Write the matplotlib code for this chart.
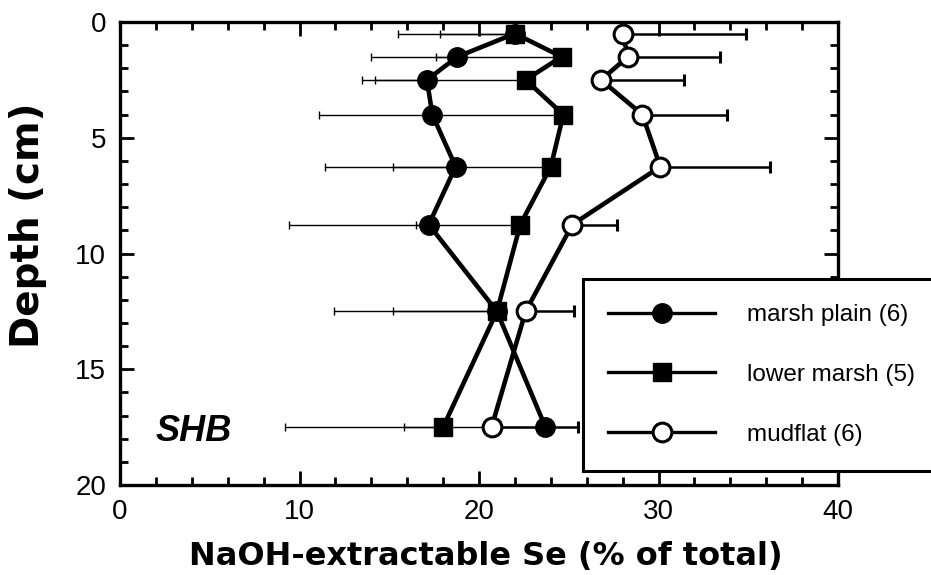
import matplotlib
matplotlib.use("Agg")
from matplotlib import pyplot as plt
from matplotlib.lines import Line2D
from matplotlib.ticker import MultipleLocator

# depth (cm) of each sampled layer
depth = [0.5, 1.5, 2.5, 4.0, 6.25, 8.75, 12.5, 17.5]

# NaOH-extractable Se, % of total
marsh_plain = [22.0, 18.8, 17.1, 17.4, 18.7, 17.2, 21.0, 23.7]
lower_marsh = [22.0, 24.6, 22.6, 24.7, 24.0, 22.3, 21.0, 18.0]
mudflat = [28.0, 28.3, 26.8, 29.1, 30.1, 25.2, 22.6, 20.7]

# one-sided error bars (marsh ones drawn to the left, mudflat to the right)
marsh_plain_err = [4.2, 4.8, 3.6, 6.3, 7.3, 7.8, 5.8, 7.9]
lower_marsh_err = [6.5, 7.0, 8.4, 7.7, 8.8, 5.8, 9.1, 8.8]
mudflat_err = [6.9, 5.1, 4.6, 4.7, 6.1, 2.5, 2.7, 4.8]

labels = ["marsh plain (6)", "lower marsh (5)", "mudflat (6)"]

zeros = [0] * len(depth)

fig = plt.figure(figsize=(9.31, 5.75), dpi=100)
ax = fig.add_axes([120 / 931, 1 - 485 / 575, 718 / 931, 463 / 575])

ax.errorbar(marsh_plain, depth, xerr=[marsh_plain_err, zeros], fmt='none',
            ecolor='black', elinewidth=1.0, capsize=3, capthick=1.0, zorder=2)
ax.errorbar(lower_marsh, depth, xerr=[lower_marsh_err, zeros], fmt='none',
            ecolor='black', elinewidth=1.0, capsize=3, capthick=1.0, zorder=2)
ax.errorbar(mudflat, depth, xerr=[zeros, mudflat_err], fmt='none',
            ecolor='black', elinewidth=1.8, capsize=4.5, capthick=2.2, zorder=2)

ax.plot(marsh_plain, depth, color='black', lw=3.3, marker='o', ms=14,
        mfc='black', mec='black', zorder=4)
ax.plot(lower_marsh, depth, color='black', lw=3.3, marker='s', ms=13,
        mfc='black', mec='black', zorder=4)
ax.plot(mudflat, depth, color='black', lw=3.3, marker='o', ms=13.5,
        mfc='white', mec='black', mew=2.2, zorder=4)

ax.set_xlim(0, 40)
ax.set_ylim(20, 0)
ax.xaxis.set_major_locator(MultipleLocator(10))
ax.xaxis.set_minor_locator(MultipleLocator(2))
ax.yaxis.set_major_locator(MultipleLocator(5))
ax.yaxis.set_minor_locator(MultipleLocator(1))
ax.tick_params(which='both', direction='in', top=True, right=True, width=2)
ax.tick_params(which='major', length=10)
ax.tick_params(which='minor', length=6)
ax.tick_params(axis='x', which='major', pad=10)
ax.tick_params(axis='y', which='major', pad=10)
for lab in ax.get_xticklabels() + ax.get_yticklabels():
    lab.set_family('Liberation Sans')
    lab.set_fontsize(20)
for sp in ax.spines.values():
    sp.set_linewidth(2.4)

ax.set_xlabel("NaOH-extractable Se (% of total)", fontsize=23,
              fontweight='bold', family='DejaVu Sans')
ax.set_ylabel("Depth (cm)", fontsize=28, fontweight='bold', family='DejaVu Sans')
ax.xaxis.set_label_coords(0.51, -0.12)
ax.yaxis.set_label_coords(-0.102, 0.56)

ax.text(2.0, 17.7, "SHB", fontsize=26, fontweight='bold', style='italic',
        family='Liberation Sans', va='center', ha='left')

handles = [
    Line2D([], [], color='black', lw=2.4, marker='o', ms=14, mfc='black', mec='black'),
    Line2D([], [], color='black', lw=2.4, marker='s', ms=13, mfc='black', mec='black'),
    Line2D([], [], color='black', lw=2.4, marker='o', ms=13.5, mfc='white',
           mec='black', mew=2.2),
]
leg = ax.legend(handles, labels, loc='upper left',
                bbox_to_anchor=(583 / 931, 1 - 279 / 575),
                bbox_transform=fig.transFigure, borderaxespad=0,
                borderpad=1.03, handlelength=4.4, handletextpad=1.3,
                labelspacing=1.56, fancybox=False, framealpha=1,
                prop={'family': 'Liberation Sans', 'size': 17.5})
leg.get_frame().set_edgecolor('black')
leg.get_frame().set_linewidth(2.2)
leg.set_zorder(10)

plt.savefig("out.png", dpi=100)
